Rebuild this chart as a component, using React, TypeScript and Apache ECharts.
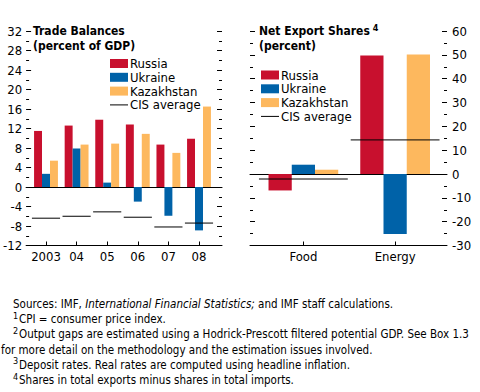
import React, { useEffect, useRef } from "react";
import * as echarts from "echarts";

const FONT = "'Liberation Sans Narrow','Arial Narrow','DejaVu Sans Condensed','Roboto Condensed',Roboto,sans-serif";

const years = ["2003", "04", "05", "06", "07", "08"];
const russiaTB = [11.5, 12.6, 13.8, 12.8, 8.7, 9.9];
const ukraineTB = [2.7, 7.9, 0.9, -3.0, -5.9, -8.9];
const kazakhTB = [5.4, 8.7, 8.9, 10.9, 7.0, 16.5];
const cisTB = [-6.4, -6.0, -5.1, -6.2, -8.2, -7.4];

const sectors = ["Food", "Energy"];
const russiaNX = [-6.9, 49.7];
const ukraineNX = [3.9, -25.2];
const kazakhNX = [1.8, 50.1];
const cisNX = [-2.1, 14.3];

const leftTicks = { min: -12, max: 32, interval: 4 };
const rightTicks = { min: -30, max: 60, interval: 10 };

const COLORS = { Russia: "#C8102E", Ukraine: "#0062A8", Kazakhstan: "#FDB85E", CIS: "#000000" };

const footnotes = [
  { sup: "", text: "Sources: IMF, ", italic: "International Financial Statistics;", rest: " and IMF staff calculations." },
  { sup: "1", text: "CPI = consumer price index." },
  { sup: "2", text: "Output gaps are estimated using a Hodrick-Prescott filtered potential GDP. See Box 1.3" },
  { sup: "", text: "for more detail on the methodology and the estimation issues involved.", flush: true },
  { sup: "3", text: "Deposit rates. Real rates are computed using headline inflation." },
  { sup: "4", text: "Shares in total exports minus shares in total imports." },
];

function cisRender(ratio: number) {
  return (params: any, api: any) => {
    const p = api.coord([api.value(0), api.value(1)]);
    const w = api.size([1, 0])[0];
    return {
      type: "line",
      shape: { x1: p[0] - w * ratio, y1: p[1], x2: p[0] + w * ratio, y2: p[1] },
      style: { stroke: "#000", lineWidth: 1 },
    };
  };
}

export default function App() {
  const ref = useRef<HTMLDivElement>(null);
  useEffect(() => {
    document.body.style.margin = "0";
    const chart = echarts.init(ref.current!, null, { renderer: "svg" });
    const black = { color: "#000", width: 1 };
    const hiddenY = (grid: number, t: any) => ({
      gridIndex: grid, type: "value", min: t.min, max: t.max, interval: t.interval, show: false,
      axisLine: { onZero: false },
    });
    const tickY = (grid: number, t: any, pos: string, labels: boolean, margin: number) => ({
      gridIndex: grid, type: "value", min: t.min, max: t.max, interval: t.interval, position: pos,
      axisLine: { show: false, onZero: false },
      axisTick: { show: true, inside: true, length: 5, lineStyle: black },
      minorTick: { show: true, splitNumber: 2, length: 3, lineStyle: black },
      splitLine: { show: false },
      minorSplitLine: { show: false },
      axisLabel: { show: labels, fontSize: 13, color: "#000", fontFamily: FONT, margin },
    });
    const lineX = (grid: number, zero: boolean) => ({
      gridIndex: grid, type: "value", min: 0, max: 1, position: zero ? "top" : "bottom",
      axisLine: { show: true, onZero: zero, lineStyle: black },
      axisTick: { show: false }, axisLabel: { show: false }, splitLine: { show: false },
    });
    const catX = (grid: number, data: string[]) => ({
      gridIndex: grid, type: "category", data,
      axisLine: { show: false, onZero: false },
      axisTick: { show: true, inside: true, length: 4, alignWithLabel: true, interval: 0, lineStyle: black },
      axisLabel: { fontSize: 13, color: "#000", fontFamily: FONT, margin: 4, interval: 0 },
      splitLine: { show: false },
    });
    const bars = (name: string, data: number[], x: number, y: number, gap: string) => ({
      name, type: "bar", xAxisIndex: x, yAxisIndex: y, data,
      itemStyle: { color: (COLORS as any)[name] },
      barGap: "0%", barCategoryGap: gap, z: 2,
    });
    const cis = (data: number[], x: number, y: number, ratio: number) => ({
      name: "CIS average", type: "custom", xAxisIndex: x, yAxisIndex: y,
      data: data.map((v, i) => [i, v]),
      encode: { x: 0, y: 1 },
      itemStyle: { color: "#000" },
      renderItem: cisRender(ratio), z: 4,
    });
    const legendData = [
      { name: "Russia", icon: "rect" },
      { name: "Ukraine", icon: "rect" },
      { name: "Kazakhstan", icon: "rect" },
      { name: "CIS average", icon: "path://M0,0H18V1H0Z" },
    ];
    const legend = (left: number, top: number) => ({
      orient: "vertical", left, top, padding: 0, itemWidth: 18, itemHeight: 9, itemGap: 0.8,
      selectedMode: false, data: legendData,
      textStyle: { fontSize: 13, color: "#000", fontFamily: FONT, lineHeight: 13, padding: [0, 0, 0, -3] },
    });

    const graphic: any[] = [
      { type: "text", x: 33, y: 31, style: { text: "Trade Balances", fontSize: 12, fontWeight: "bold", fontFamily: FONT, fill: "#000", verticalAlign: "middle" } },
      { type: "text", x: 33, y: 46, style: { text: "(percent of GDP)", fontSize: 12, fontWeight: "bold", fontFamily: FONT, fill: "#000", verticalAlign: "middle" } },
      { type: "text", x: 259, y: 31, style: { text: "{a|Net Export Shares}{s| 4}", fontFamily: FONT, fill: "#000", verticalAlign: "middle",
        rich: { a: { fontSize: 12, fontWeight: "bold", fontFamily: FONT, lineHeight: 16 }, s: { fontSize: 9, fontWeight: "bold", fontFamily: FONT, lineHeight: 9, verticalAlign: "top" } } } },
      { type: "text", x: 259, y: 46, style: { text: "(percent)", fontSize: 12, fontWeight: "bold", fontFamily: FONT, fill: "#000", verticalAlign: "middle" } },
    ];
    const FS = 11.5;
    footnotes.forEach((f, i) => {
      const y = 304 + i * 15.2;
      if (f.sup) {
        graphic.push({ type: "text", x: 13, y: y - 3.5, style: { text: f.sup, fontSize: 9, fontFamily: FONT, fill: "#000", verticalAlign: "middle" } });
      }
      const x = f.flush ? 1 : f.sup ? 19 : 13;
      if (f.italic) {
        graphic.push({ type: "text", x, y, style: { text: `{a|${f.text}}{i|${f.italic}}{a|${f.rest}}`, fontSize: FS, fontFamily: FONT, fill: "#000", verticalAlign: "middle",
          rich: { a: { fontSize: FS, fontFamily: FONT }, i: { fontSize: FS, fontFamily: FONT, fontStyle: "italic" } } } });
      } else {
        graphic.push({ type: "text", x, y, style: { text: f.text, fontSize: FS, fontFamily: FONT, fill: "#000", verticalAlign: "middle" } });
      }
    });

    chart.setOption({
      animation: false,
      backgroundColor: "#fff",
      grid: [
        { left: 30.7, right: 480 - 214.3, top: 31, bottom: 146.5 },
        { left: 25, right: 480 - 222, top: 31, bottom: 146.5 },
        { left: 257.5, right: 480 - 441, top: 31, bottom: 146.5 },
        { left: 250, right: 480 - 447, top: 31, bottom: 146.5 },
      ],
      xAxis: [catX(0, years), lineX(1, false), lineX(1, true), catX(2, sectors), lineX(3, false), lineX(3, true)],
      yAxis: [
        hiddenY(0, leftTicks),
        tickY(1, leftTicks, "left", true, 4),
        tickY(1, leftTicks, "right", false, 4),
        hiddenY(2, rightTicks),
        tickY(3, rightTicks, "left", false, 4),
        tickY(3, rightTicks, "right", true, 5),
      ],
      legend: [legend(110, 57), legend(261, 68.5)],
      series: [
        bars("Russia", russiaTB, 0, 0, "22%"),
        bars("Ukraine", ukraineTB, 0, 0, "22%"),
        bars("Kazakhstan", kazakhTB, 0, 0, "22%"),
        cis(cisTB, 0, 0, 0.46),
        bars("Russia", russiaNX, 3, 3, "24%"),
        bars("Ukraine", ukraineNX, 3, 3, "24%"),
        bars("Kazakhstan", kazakhNX, 3, 3, "24%"),
        cis(cisNX, 3, 3, 0.484),
      ],
      graphic,
    });
    return () => chart.dispose();
  }, []);
  return <div ref={ref} style={{ width: 480, height: 392 }} />;
}
